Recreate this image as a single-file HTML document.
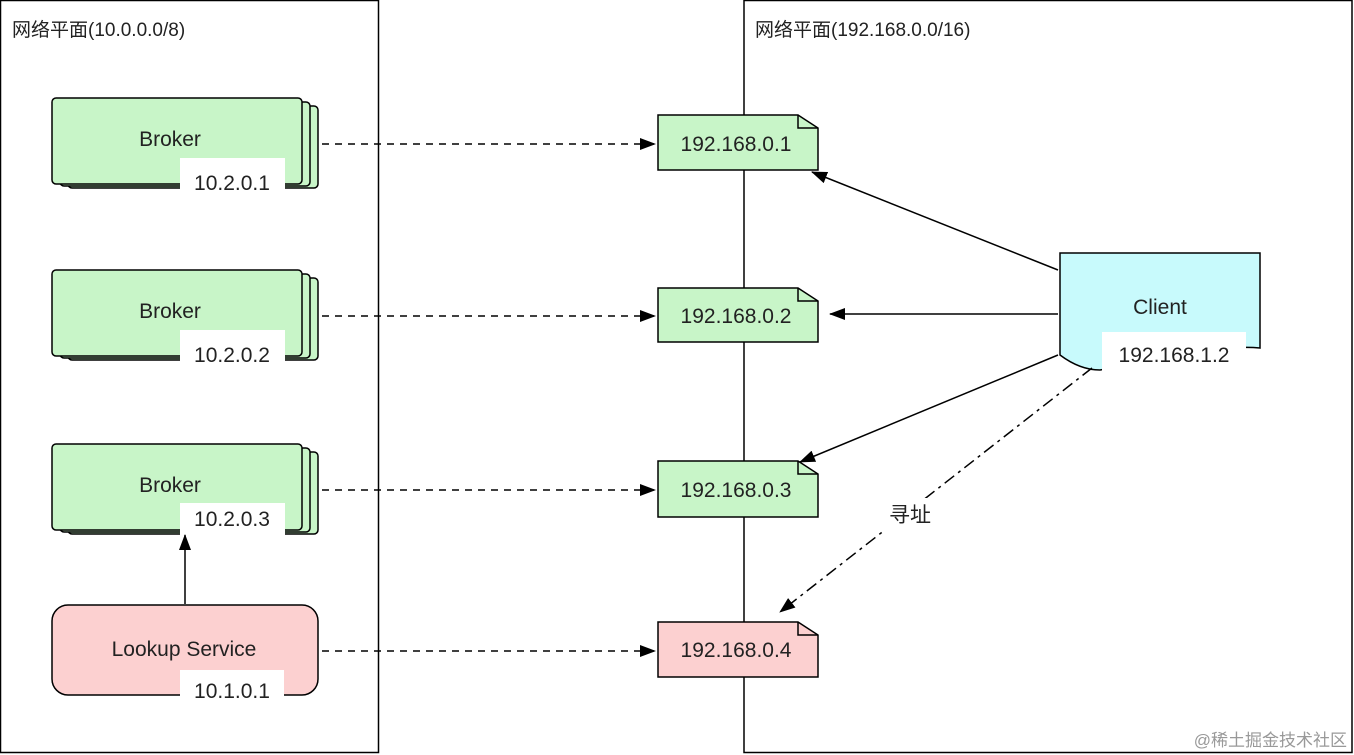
<!DOCTYPE html>
<html><head><meta charset="utf-8"><style>html,body{margin:0;padding:0;background:#fff;}svg{display:block;}</style></head>
<body>
<svg width="1354" height="755" viewBox="0 0 1354 755" xmlns="http://www.w3.org/2000/svg" font-family="'Liberation Sans','Noto Sans CJK SC',sans-serif">
<defs>
<marker id="a" markerWidth="16" markerHeight="12" refX="15" refY="6" orient="auto" markerUnits="userSpaceOnUse"><path d="M0,0 L16,6 L0,12 z" fill="#000"/></marker>
</defs>
<rect x="0.5" y="0.5" width="378" height="752" fill="none" stroke="#000" stroke-width="1.5"/>
<rect x="744" y="0.5" width="608" height="752" fill="none" stroke="#000" stroke-width="1.5"/>
<text x="12" y="36" font-size="19" fill="#222">网络平面(10.0.0.0/8)</text>
<text x="755" y="36" font-size="19" fill="#222">网络平面(192.168.0.0/16)</text>

<g stroke="#000" stroke-width="1.5" fill="#c8f5c8">
<g><rect x="68" y="106" width="250" height="82" rx="4"/><rect x="60" y="102" width="250" height="84" rx="4"/><rect x="52" y="98" width="250" height="86" rx="4"/></g>
<g><rect x="68" y="278" width="250" height="82" rx="4"/><rect x="60" y="274" width="250" height="84" rx="4"/><rect x="52" y="270" width="250" height="86" rx="4"/></g>
<g><rect x="68" y="452" width="250" height="82" rx="4"/><rect x="60" y="448" width="250" height="84" rx="4"/><rect x="52" y="444" width="250" height="86" rx="4"/></g>
</g>
<rect x="52" y="605" width="266" height="90" rx="16" fill="#fcd0d0" stroke="#000" stroke-width="1.5"/>
<g fill="#fff"><rect x="180" y="158" width="105" height="38"/><rect x="180" y="330" width="105" height="38"/><rect x="180" y="503" width="105" height="34"/><rect x="180" y="670" width="104" height="30"/></g>
<g font-size="21" fill="#222" text-anchor="middle">
<text x="170" y="146">Broker</text><text x="232" y="190">10.2.0.1</text>
<text x="170" y="318">Broker</text><text x="232" y="362">10.2.0.2</text>
<text x="170" y="492">Broker</text><text x="232" y="526">10.2.0.3</text>
<text x="184" y="656">Lookup Service</text><text x="232" y="698">10.1.0.1</text>
</g>
<line x1="185" y1="604" x2="185" y2="535" stroke="#000" stroke-width="1.5" marker-end="url(#a)"/>

<g stroke="#000" stroke-width="1.5" stroke-dasharray="7,6" marker-end="url(#a)">
<line x1="322" y1="144" x2="655" y2="144"/><line x1="322" y1="316" x2="655" y2="316"/>
<line x1="322" y1="490" x2="655" y2="490"/><line x1="322" y1="651" x2="655" y2="651"/>
</g>
<g stroke="#000" stroke-width="1.5">
<path d="M658,115 H798 L818,128 V170 H658 Z" fill="#c8f5c8"/><path d="M798,115 V128 H818" fill="none"/>
<path d="M658,288 H798 L818,301 V342 H658 Z" fill="#c8f5c8"/><path d="M798,288 V301 H818" fill="none"/>
<path d="M658,461 H798 L818,474 V517 H658 Z" fill="#c8f5c8"/><path d="M798,461 V474 H818" fill="none"/>
<path d="M658,622 H798 L818,635 V677 H658 Z" fill="#fcd0d0"/><path d="M798,622 V635 H818" fill="none"/>
</g>
<g font-size="21" fill="#222" text-anchor="middle">
<text x="736" y="151">192.168.0.1</text><text x="736" y="323">192.168.0.2</text>
<text x="736" y="497">192.168.0.3</text><text x="736" y="657">192.168.0.4</text>
</g>

<path d="M1060,253 H1260 V348 Q1240,346 1220,350 L1100,370 Q1080,370 1060,355 Z" fill="#c8fafc" stroke="#000" stroke-width="1.5"/>
<rect x="1102" y="332" width="144" height="40" fill="#fff"/>
<text x="1160" y="314" font-size="21" fill="#222" text-anchor="middle">Client</text>
<text x="1174" y="362" font-size="21" fill="#222" text-anchor="middle">192.168.1.2</text>

<g stroke="#000" stroke-width="1.5" marker-end="url(#a)">
<line x1="1058" y1="270" x2="812" y2="172"/>
<line x1="1058" y1="314" x2="830" y2="314"/>
<line x1="1058" y1="355" x2="800" y2="462"/>
<line x1="1092" y1="368" x2="780" y2="612" stroke-dasharray="12,5,3,5"/>
</g>
<rect x="880" y="498" width="60" height="32" fill="#fff"/>
<text x="910" y="522" font-size="21" fill="#222" text-anchor="middle">寻址</text>
<text x="1347" y="746" font-size="17" fill="#999" text-anchor="end">@稀土掘金技术社区</text>
</svg>
</body></html>
